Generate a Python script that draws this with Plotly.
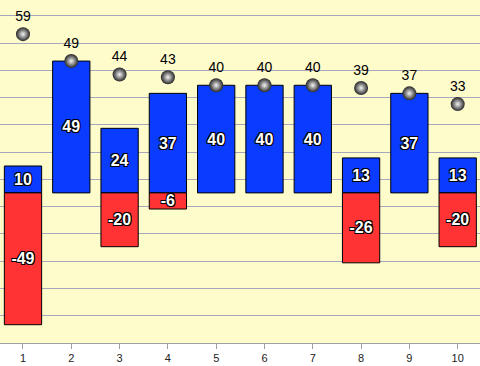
import plotly.graph_objects as go

categories = [1, 2, 3, 4, 5, 6, 7, 8, 9, 10]
positive = [10, 49, 24, 37, 40, 40, 40, 13, 37, 13]
negative = [-49, None, -20, -6, None, None, None, -26, None, -20]
totals = [59, 49, 44, 43, 40, 40, 40, 39, 37, 33]

outline = "-1px -1px 0 #000, 1px -1px 0 #000, -1px 1px 0 #000, 1px 1px 0 #000"

fig = go.Figure()
fig.add_trace(go.Bar(
    x=categories, y=positive, width=0.772,
    marker=dict(color="#0a3cff", line=dict(color="#000000", width=1)),
    text=[str(v) for v in positive], textposition="inside", insidetextanchor="middle",
    textangle=0,
    textfont=dict(family="Liberation Sans, Arial", size=16, color="white", weight="bold", shadow=outline),
    constraintext="none", cliponaxis=False, showlegend=False, hoverinfo="skip",
))
fig.add_trace(go.Bar(
    x=categories, y=negative, width=0.772,
    marker=dict(color="#ff3333", line=dict(color="#000000", width=1)),
    text=[str(v) if v is not None else "" for v in negative], textposition="inside", insidetextanchor="middle",
    textangle=0,
    textfont=dict(family="Liberation Sans, Arial", size=16, color="white", weight="bold", shadow=outline),
    constraintext="none", cliponaxis=False, showlegend=False, hoverinfo="skip",
))
fig.add_trace(go.Scatter(
    x=categories, y=totals, mode="markers+text",
    marker=dict(size=14, color="#262626", gradient=dict(type="radial", color="#f4f4f4"),
                line=dict(width=0)),
    text=[str(v) for v in totals], textposition="top center",
    textfont=dict(family="Liberation Sans, Arial", size=14, color="#000000"),
    cliponaxis=False, showlegend=False, hoverinfo="skip",
))

fig.update_layout(
    width=480, height=366,
    margin=dict(l=0, r=0, t=0, b=23),
    barmode="relative",
    plot_bgcolor="#fffccc",
    paper_bgcolor="#ffffff",
    uniformtext=dict(minsize=16, mode="show"),
)
fig.update_xaxes(
    range=[0.524, 10.462], tickmode="array", tickvals=categories,
    ticktext=[str(c) for c in categories],
    showgrid=False, zeroline=False,
    showline=True, linecolor="#a0a0a0", linewidth=1,
    ticks="outside", ticklen=5, tickcolor="#a0a0a0",
    tickfont=dict(family="Liberation Sans, Arial", size=11, color="#222222"),
)
fig.update_yaxes(
    range=[-55.8, 71.7], tick0=-45.7, dtick=10.14,
    showticklabels=False, zeroline=False,
    showgrid=True, gridcolor="#a8a8bc", gridwidth=1,
)

fig.write_html(
    "out.html",
    config={"displayModeBar": False},
    post_script="document.body.style.margin='0';document.body.style.overflow='hidden';",
)
